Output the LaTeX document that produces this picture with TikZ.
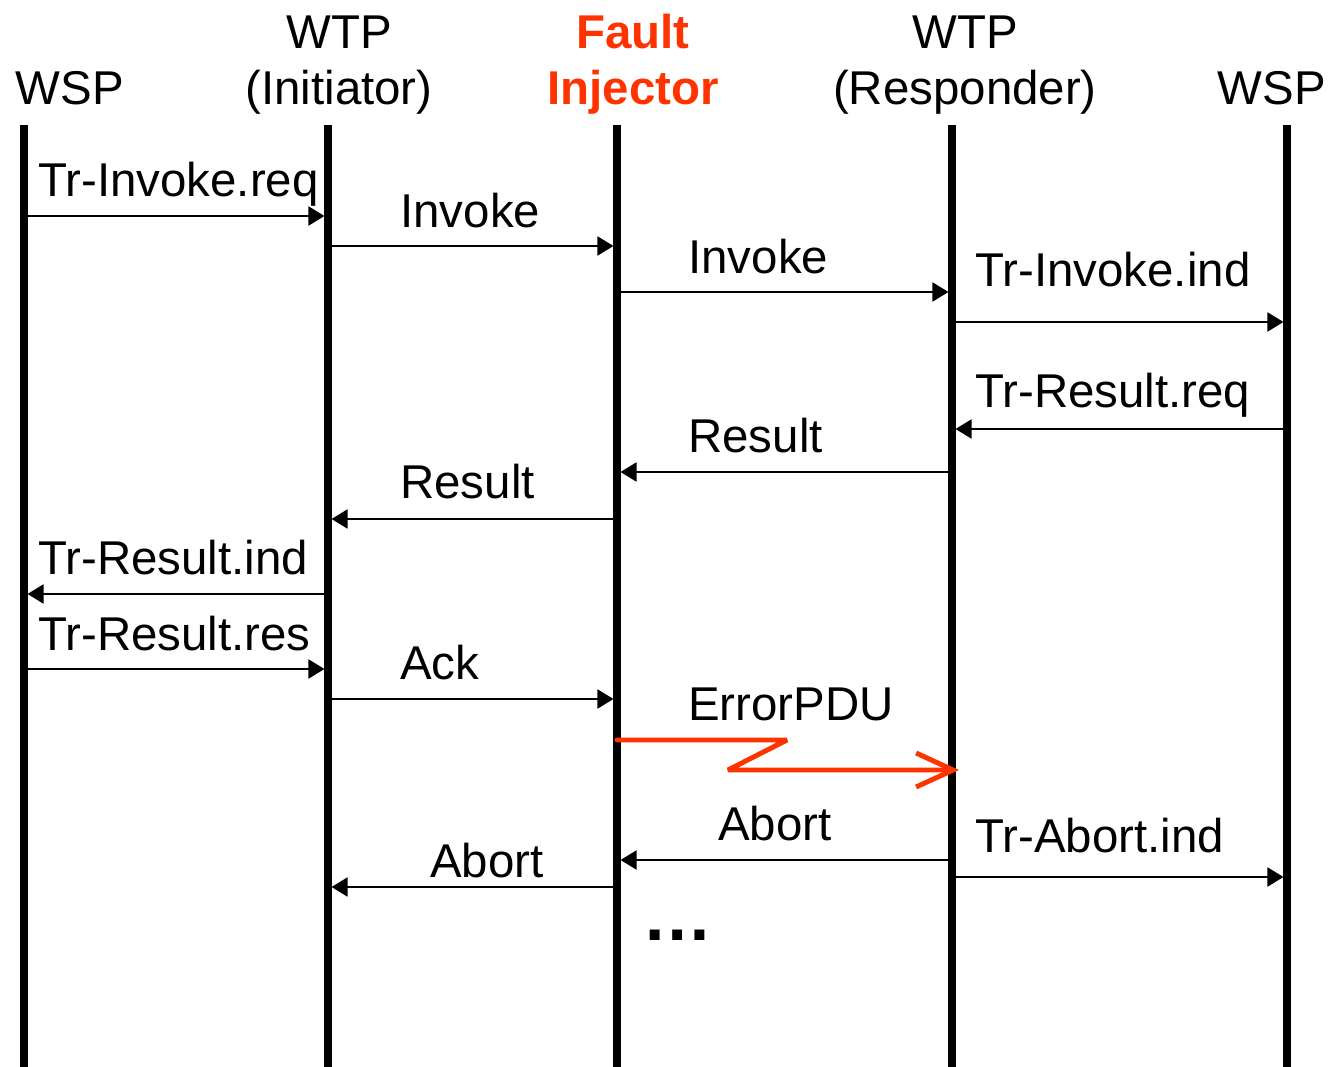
\documentclass[tikz,border=0pt]{standalone}
\usepackage{fontspec}
\setmainfont{Liberation Sans}
\usetikzlibrary{arrows.meta}
\usetikzlibrary{positioning}

\definecolor{faultred}{RGB}{255,51,0}

\tikzset{
  lifeline/.style={line width=4pt},
  msg/.style={line width=1.1pt,shorten >=2pt,
    -{Triangle[length=0.32cm,width=0.38cm]}},
  fault/.style={line width=2.8pt,faultred,line cap=round,line join=bevel,
    shorten >=-4pt,
    -{Straight Barb[length=0.74cm,width=0.68cm,line width=2.8pt]}},
  msglabel/.style={anchor=base west,inner sep=0pt},
  headlabel/.style={anchor=base,inner sep=0pt,align=center},
}

\begin{document}
\begin{tikzpicture}[x=0.02cm,y=-0.02cm,
  every node/.style={font=\fontsize{27}{32}\selectfont}]
\useasboundingbox (0,0) rectangle (1333,1067);
% Lifelines
\coordinate (WspI) at (24,125);
\coordinate (WtpI) at (328,125);
\coordinate (Fault) at (617,125);
\coordinate (WtpR) at (952,125);
\coordinate (WspR) at (1287,125);
\foreach \l in {WspI,WtpI,Fault,WtpR,WspR}
  \draw[lifeline] (\l) -- (\l |- 0,1067);
% Headers
\node[headlabel] at (70,105) (HeadWspI) {WSP};
\node[headlabel] at (339,105) (HeadWtpI) {WTP\\(Initiator)};
\node[headlabel,text=faultred,font=\fontsize{27}{32}\selectfont\bfseries] at (633,105) (HeadFault) {Fault\\Injector};
\node[headlabel] at (965,105) (HeadWtpR) {WTP\\(Responder)};
\node[headlabel] at (1272,105) (HeadWspR) {WSP};
% Messages
\draw[msg] (WspI |- 0,216) -- (WtpI |- 0,216);
\node[msglabel] at (38,197) (TrInvokeReq) {Tr-Invoke.req};
\draw[msg] (WtpI |- 0,246) -- (Fault |- 0,246);
\node[msglabel] at (400,228) (InvokeA) {Invoke};
\draw[msg] (Fault |- 0,292) -- (WtpR |- 0,292);
\node[msglabel] at (688,274) (InvokeB) {Invoke};
\draw[msg] (WtpR |- 0,322) -- (WspR |- 0,322);
\node[msglabel] at (975,287) (TrInvokeInd) {Tr-Invoke.ind};
\draw[msg] (WspR |- 0,429) -- (WtpR |- 0,429);
\node[msglabel] at (975,408) (TrResultReq) {Tr-Result.req};
\draw[msg] (WtpR |- 0,472) -- (Fault |- 0,472);
\node[msglabel] at (688,453) (ResultA) {Result};
\draw[msg] (Fault |- 0,519) -- (WtpI |- 0,519);
\node[msglabel] at (400,499) (ResultB) {Result};
\draw[msg] (WtpI |- 0,594) -- (WspI |- 0,594);
\node[msglabel] at (38,575) (TrResultInd) {Tr-Result.ind};
\draw[msg] (WspI |- 0,669) -- (WtpI |- 0,669);
\node[msglabel] at (38,650) (TrResultRes) {Tr-Result.res};
\draw[msg] (WtpI |- 0,699) -- (Fault |- 0,699);
\node[msglabel] at (400,680) (Ack) {Ack};
% Injected fault
\draw[fault] (Fault |- 0,740) -- (787,740) -- (728,770) -- (WtpR |- 0,770);
\node[msglabel] at (688,720) (ErrorPdu) {ErrorPDU};
% Abort
\draw[msg] (WtpR |- 0,860) -- (Fault |- 0,860);
\node[msglabel] at (718,840) (AbortA) {Abort};
\draw[msg] (Fault |- 0,887) -- (WtpI |- 0,887);
\node[msglabel] at (430,877) (AbortB) {Abort};
\draw[msg] (WtpR |- 0,877) -- (WspR |- 0,877);
\node[msglabel] at (975,852) (TrAbortInd) {Tr-Abort.ind};
\node[anchor=base,inner sep=0pt,font=\fontsize{40}{40}\selectfont\bfseries] at (678,940) (More) {…};
\end{tikzpicture}
\end{document}
